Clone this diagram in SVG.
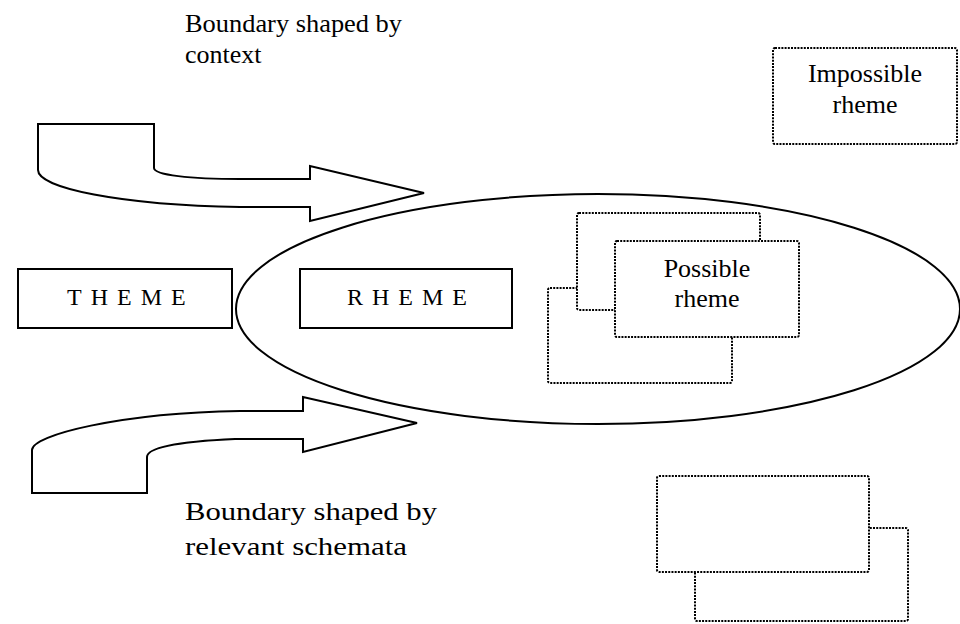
<svg xmlns="http://www.w3.org/2000/svg" width="960" height="624" viewBox="0 0 960 624">
<style>
.solid{fill:#fff;stroke:#000;stroke-width:2}
.dot{fill:#fff;stroke:#000;stroke-width:2;stroke-dasharray:2 1.2}
.arrow{fill:#fff;stroke:#000;stroke-width:2;stroke-linejoin:miter}
.t{font-family:"Liberation Serif","Times New Roman",serif;fill:#000}
.sp{font-family:"Liberation Serif","Times New Roman",serif;fill:#000;font-size:24px;letter-spacing:9px}
</style>
<rect width="960" height="624" fill="#fff"/>
<g id="label-context">
<text class="t" x="185" y="32" font-size="26" textLength="217" lengthAdjust="spacingAndGlyphs">Boundary shaped by</text>
<text class="t" x="185" y="63" font-size="26">context</text>
</g>
<g id="label-schemata">
<text class="t" x="185" y="520" font-size="25" textLength="252" lengthAdjust="spacingAndGlyphs">Boundary shaped by</text>
<text class="t" x="185" y="555" font-size="25" textLength="222" lengthAdjust="spacingAndGlyphs">relevant schemata</text>
</g>
<g id="impossible-rheme">
<rect class="dot" x="773" y="48" width="184" height="96" rx="2"/>
<text class="t" x="865" y="82" font-size="26" text-anchor="middle">Impossible</text>
<text class="t" x="865" y="113" font-size="26" text-anchor="middle">rheme</text>
</g>
<g id="rheme-ellipse">
<ellipse class="solid" cx="598" cy="309" rx="362" ry="115" stroke-width="2.5"/>
</g>
<g id="theme">
<rect class="solid" x="18" y="269" width="214" height="59"/>
<text class="sp" x="67" y="305">THEME</text>
</g>
<g id="rheme">
<rect class="solid" x="300" y="269" width="212" height="59"/>
<text class="sp" x="347" y="305">RHEME</text>
</g>
<g id="possible-rheme">
<rect class="dot" x="548" y="288" width="184" height="95" rx="2"/>
<rect class="dot" x="577" y="213" width="183" height="97" rx="2"/>
<rect class="dot" x="615" y="241" width="184" height="96" rx="2"/>
<text class="t" x="707" y="277" font-size="26" text-anchor="middle">Possible</text>
<text class="t" x="707" y="307" font-size="26" text-anchor="middle">rheme</text>
</g>
<g id="unnamed-rhemes">
<rect class="dot" x="695" y="528" width="213" height="93" rx="2"/>
<rect class="dot" x="657" y="476" width="212" height="96" rx="2"/>
</g>
<g id="connectors">
<path class="arrow" d="M38,124 H154 V168 C154,175 190,179 240,179 H310 V166 L424,193 L310,221 V207 H240 C120,205 38,188 38,170 Z"/>
<path class="arrow" d="M32,493 V450 C32,435 120,413 240,411 H303 V397 L417,423 L303,452 V439 H235 C190,441 147,446 147,457 V493 Z"/>
</g>
</svg>
